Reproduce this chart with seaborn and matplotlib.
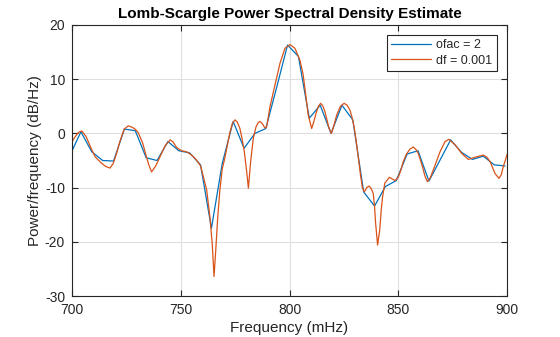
import numpy as np
import pandas as pd
import matplotlib
matplotlib.use("Agg")
import matplotlib.pyplot as plt
import seaborn as sns

# Coarse periodogram (oversampling factor 2): frequency grid in mHz, power in dB/Hz
ofac_freq = [699.1, 704.1, 709.1, 714.1, 719.1, 724.1, 729.1, 734.1, 739.1, 744.1,
             749.1, 754.1, 759.1, 764.1, 769.1, 774.1, 779.1, 784.1, 789.1, 794.1,
             799.1, 804.1, 809.1, 814.1, 819.1, 824.1, 829.1, 834.1, 839.1, 844.1,
             849.1, 854.1, 859.1, 864.1, 869.1, 874.1, 879.1, 884.1, 889.1, 894.1,
             899.1]
ofac_pow = [-4.0, 0.3, -3.4, -5.0, -5.1, 0.8, 0.5, -4.5, -5.0, -1.5,
            -3.2, -3.6, -5.8, -17.5, -5.5, 2.2, -2.75, 0.0, 0.9, 8.5,
            16.3, 14.2, 2.8, 5.2, 0.0, 5.2, 2.5, -10.8, -13.4, -9.8,
            -8.7, -3.8, -3.2, -8.8, -5.0, -1.2, -3.5, -4.8, -4.2, -5.8,
            -6.0]

# Fine periodogram (frequency resolution 0.001 Hz)
df_freq = [700.0, 701.5, 703.0, 704.5, 706.5, 708.5, 710.6, 713.6, 715.5, 717.5,
           719.0, 720.5, 722.0, 724.0, 725.9, 727.8, 729.0, 730.5, 732.5, 734.0,
           735.3, 736.6, 738.5, 740.5, 742.8, 745.1, 746.5, 748.1, 750.4, 752.7,
           755.0, 757.0, 759.1, 760.4, 761.9, 763.4, 764.5, 765.3, 766.1, 767.0,
           768.0, 769.1, 770.3, 771.5, 772.6, 773.7, 774.9, 776.0, 777.2, 778.3,
           779.2, 780.3, 781.1, 782.2, 783.4, 784.6, 785.6, 786.4, 787.5, 788.7,
           789.5, 791.0, 793.3, 795.6, 797.9, 800.2, 802.5, 804.8, 806.2, 807.1,
           808.6, 810.2, 811.2, 812.2, 813.3, 814.3, 815.3, 816.3, 817.3, 818.2,
           819.3, 820.5, 821.7, 823.4, 825.1, 826.5, 827.8, 828.8, 829.7, 830.7,
           831.6, 832.6, 833.5, 834.4, 835.5, 836.6, 837.6, 838.5, 839.1, 839.6,
           840.5, 841.5, 842.2, 842.8, 843.8, 845.9, 848.5, 850.0, 851.2, 852.3,
           853.8, 855.4, 856.9, 858.2, 859.2, 861.1, 862.3, 863.4, 864.6, 866.1,
           869.2, 871.5, 873.3, 876.1, 879.2, 882.2, 885.3, 889.1, 890.8, 892.2,
           894.5, 896.3, 897.4, 898.3, 899.2, 900.0]
df_pow = [-1.5, -0.6, 0.2, 0.45, -0.6, -2.5, -4.3, -5.5, -6.1, -6.4,
          -5.5, -3.7, -1.5, 0.8, 1.4, 1.1, 0.8, 0.1, -1.8, -4.0,
          -5.8, -7.1, -6.0, -4.3, -2.3, -1.2, -1.6, -2.6, -3.2, -3.4,
          -4.0, -4.8, -6.0, -8.0, -10.4, -15.4, -20.5, -26.4, -21.5, -15.5,
          -10.4, -6.5, -4.5, -2.0, 0.2, 1.8, 2.5, 2.1, 0.9, -1.2,
          -3.3, -7.0, -10.1, -4.9, -0.8, 1.2, 2.0, 2.2, 1.8, 1.0,
          1.2, 4.9, 8.9, 12.9, 15.7, 16.4, 15.7, 13.5, 11.0, 8.3,
          3.4, 0.9, 2.2, 3.7, 5.0, 5.55, 5.1, 4.0, 2.4, 0.9,
          0.0, 1.6, 3.4, 5.0, 5.55, 5.2, 4.3, 2.9, 1.2, -1.5,
          -4.3, -7.5, -10.0, -10.8, -10.0, -9.7, -10.2, -11.1, -13.5, -16.6,
          -20.6, -17.8, -14.0, -11.7, -9.2, -8.1, -8.7, -8.1, -6.8, -5.2,
          -3.8, -2.9, -2.5, -3.0, -3.7, -6.1, -7.9, -8.9, -8.3, -6.75,
          -3.4, -1.5, -1.1, -2.1, -3.7, -4.8, -4.4, -4.0, -4.4, -5.2,
          -7.4, -8.3, -7.6, -6.1, -5.0, -3.9]

x_ticks = [700, 750, 800, 850, 900]
y_ticks = [-30, -20, -10, 0, 10, 20]

sns.set_theme(style="white")
plt.rcParams["font.family"] = ["Liberation Sans", "DejaVu Sans"]
plt.rcParams["axes.unicode_minus"] = False

fig = plt.figure(figsize=(5.6, 3.37), dpi=100)
ax = fig.add_axes([72 / 560, 1 - 296 / 337, 435 / 560, 271 / 337])

coarse = pd.DataFrame({"freq": ofac_freq, "power": ofac_pow})
fine = pd.DataFrame({"freq": df_freq, "power": df_pow})

sns.lineplot(data=coarse, x="freq", y="power", ax=ax, color="#0072BD",
             linewidth=0.9, label="ofac = 2", estimator=None)
sns.lineplot(data=fine, x="freq", y="power", ax=ax, color="#D95319",
             linewidth=0.9, label="df = 0.001", estimator=None)

ax.set_xlim(700, 900)
ax.set_ylim(-30, 20)
ax.set_xticks(x_ticks)
ax.set_yticks(y_ticks)
ax.grid(True, color="#dfdfdf", linewidth=0.8)
ax.set_axisbelow(True)
for s in ax.spines.values():
    s.set_color("#262626")
    s.set_linewidth(0.8)
ax.tick_params(direction="in", length=4, width=0.8, colors="#262626",
               labelsize=10, top=True, right=True, bottom=True, left=True,
               pad=5)

ax.set_xlabel("Frequency (mHz)", fontsize=11, color="#262626", labelpad=3)
ax.set_ylabel("Power/frequency (dB/Hz)", fontsize=11, color="#262626", labelpad=2)
ax.set_title("Lomb-Scargle Power Spectral Density Estimate", fontsize=11,
             fontweight="bold", color="black", pad=5)

leg = ax.legend(loc="upper right", fontsize=9, frameon=True, fancybox=False,
                edgecolor="#262626", framealpha=1, borderpad=0.35,
                handlelength=3.2, handletextpad=0.45, labelspacing=0.25,
                borderaxespad=0.8)
leg.get_frame().set_linewidth(0.8)

fig.savefig("out.png", dpi=100)
